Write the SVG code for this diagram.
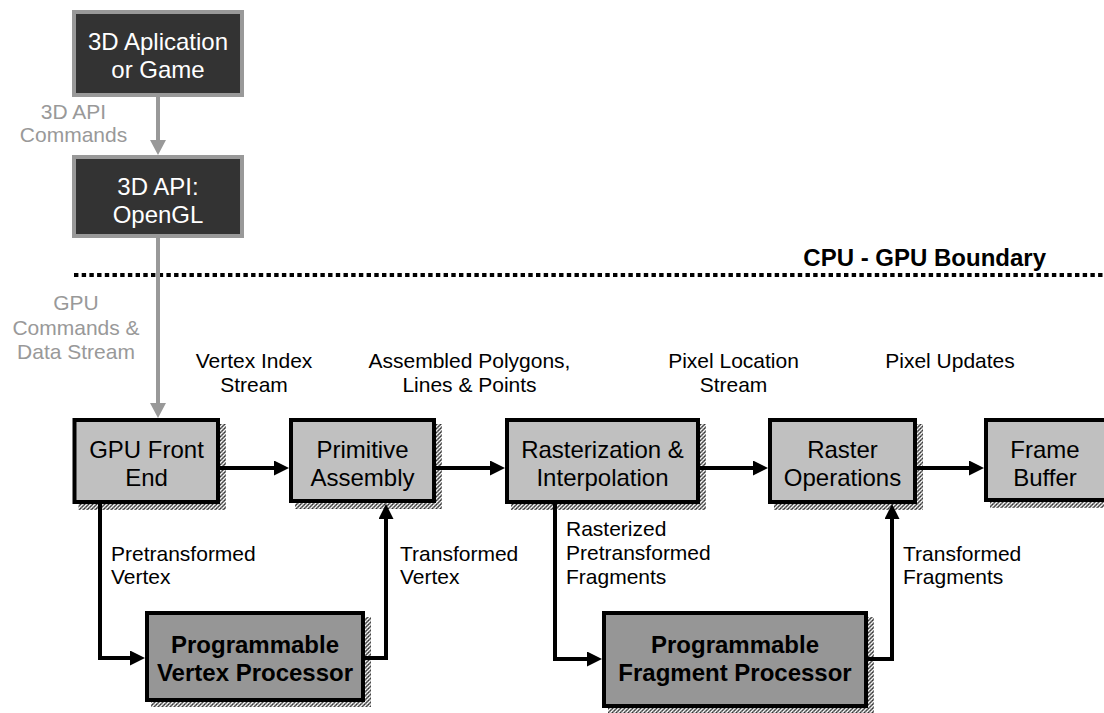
<svg xmlns="http://www.w3.org/2000/svg" width="1104" height="713" viewBox="0 0 1104 713">
<style>
.lbl{font-family:"Liberation Sans",Arial,sans-serif;font-size:21px;fill:#000}
.glbl{font-family:"Liberation Sans",Arial,sans-serif;font-size:21px;fill:#999;text-anchor:middle}
.btx{font-family:"Liberation Sans",Arial,sans-serif;font-size:24px;fill:#000;text-anchor:middle}
.wtx{font-family:"Liberation Sans",Arial,sans-serif;font-size:24px;fill:#fff;text-anchor:middle}
.bold{font-weight:bold}
.dark{fill:#333;stroke:#999;stroke-width:4}
.light{fill:#c0c0c0;stroke:#000;stroke-width:4}
.prog{fill:#969696;stroke:#000;stroke-width:4}
.shadow{fill:url(#stip)}
.conn{fill:none;stroke:#000;stroke-width:4;stroke-linejoin:miter}
.gconn{fill:none;stroke:#999;stroke-width:4}
</style>
<defs>
<pattern id="stip" width="4" height="4" patternUnits="userSpaceOnUse">
<rect width="4" height="4" fill="#9a9a9a"/>
<rect x="0" y="0" width="1" height="1" fill="#333"/>
<rect x="2" y="0" width="1" height="1" fill="#ddd"/>
<rect x="1" y="1" width="1" height="1" fill="#fff"/>
<rect x="3" y="1" width="1" height="1" fill="#555"/>
<rect x="0" y="2" width="1" height="1" fill="#eee"/>
<rect x="2" y="2" width="1" height="1" fill="#444"/>
<rect x="1" y="3" width="1" height="1" fill="#666"/>
<rect x="3" y="3" width="1" height="1" fill="#fff"/>
</pattern>
<marker id="ah" markerUnits="userSpaceOnUse" markerWidth="15" markerHeight="15" refX="10" refY="7.5" orient="auto" viewBox="0 0 15 15">
<path d="M0,0 L15,7.5 L0,15 z" fill="#000"/>
</marker>
<marker id="gah" markerUnits="userSpaceOnUse" markerWidth="15" markerHeight="16" refX="10" refY="8" orient="auto" viewBox="0 0 15 16">
<path d="M0,0 L15,8 L0,16 z" fill="#999"/>
</marker>
</defs>
<rect width="1104" height="713" fill="#fff"/>

<g id="boundary">
<line x1="74" y1="275" x2="1104" y2="275" stroke="#000" stroke-width="4" stroke-dasharray="4.4 3.3"/>
<text class="lbl bold" x="1046" y="266" text-anchor="end" style="font-size:24px">CPU - GPU Boundary</text>
</g>

<g id="app">
<rect class="dark" x="74" y="12" width="168" height="83"/>
<text class="wtx" x="158" y="50">3D Aplication</text>
<text class="wtx" x="158" y="78">or Game</text>
</g>
<g id="api">
<rect class="dark" x="74" y="157" width="168" height="79"/>
<text class="wtx" x="158" y="195">3D API:</text>
<text class="wtx" x="158" y="223">OpenGL</text>
</g>

<g id="frontend">
<rect class="shadow" x="78.5" y="424" width="147.5" height="86"/>
<rect class="light" x="74.5" y="420" width="143.5" height="82"/>
<text class="btx" x="146.5" y="458">GPU Front</text>
<text class="btx" x="146.5" y="486">End</text>
</g>
<g id="primitive">
<rect class="shadow" x="295" y="424" width="147" height="85"/>
<rect class="light" x="291" y="420" width="143" height="81"/>
<text class="btx" x="362.5" y="458">Primitive</text>
<text class="btx" x="362.5" y="486">Assembly</text>
</g>
<g id="raster">
<rect class="shadow" x="511" y="424" width="195" height="86"/>
<rect class="light" x="507" y="420" width="191" height="82"/>
<text class="btx" x="602.5" y="458">Rasterization &amp;</text>
<text class="btx" x="602.5" y="486">Interpolation</text>
</g>
<g id="rop">
<rect class="shadow" x="774" y="424" width="149" height="86"/>
<rect class="light" x="770" y="420" width="145" height="82"/>
<text class="btx" x="842.5" y="458">Raster</text>
<text class="btx" x="842.5" y="486">Operations</text>
</g>
<g id="framebuffer">
<rect class="shadow" x="990" y="424" width="126" height="84"/>
<rect class="light" x="986" y="420" width="124" height="80"/>
<text class="btx" x="1045" y="458">Frame</text>
<text class="btx" x="1045" y="486">Buffer</text>
</g>
<g id="vertexproc">
<rect class="shadow" x="151" y="617" width="220" height="90"/>
<rect class="prog" x="147" y="613" width="216" height="87"/>
<text class="btx bold" x="255" y="653">Programmable</text>
<text class="btx bold" x="255" y="681">Vertex Processor</text>
</g>
<g id="fragproc">
<rect class="shadow" x="608" y="617" width="266" height="96"/>
<rect class="prog" x="604" y="613" width="262" height="93"/>
<text class="btx bold" x="735" y="653">Programmable</text>
<text class="btx bold" x="735" y="681">Fragment Processor</text>
</g>

<g id="connectors">
<path class="gconn" d="M158,97 V150" marker-end="url(#gah)"/>
<path class="gconn" d="M158,238 V413" marker-end="url(#gah)"/>
<path class="conn" d="M220,468 H284" marker-end="url(#ah)"/>
<path class="conn" d="M436,468 H500" marker-end="url(#ah)"/>
<path class="conn" d="M700,468 H763" marker-end="url(#ah)"/>
<path class="conn" d="M917,468 H979" marker-end="url(#ah)"/>
<path class="conn" d="M100,504 V658 H140" marker-end="url(#ah)"/>
<path class="conn" d="M365,658 H386 V509" marker-end="url(#ah)"/>
<path class="conn" d="M555,504 V659 H597" marker-end="url(#ah)"/>
<path class="conn" d="M868,659 H892 V509" marker-end="url(#ah)"/>
</g>

<g id="labels">
<text class="glbl" x="73.5" y="119">3D API</text>
<text class="glbl" x="73.5" y="142">Commands</text>
<text class="glbl" x="76" y="310">GPU</text>
<text class="glbl" x="76" y="335">Commands &amp;</text>
<text class="glbl" x="76" y="359">Data Stream</text>
<text class="lbl" x="254" y="368" text-anchor="middle">Vertex Index</text>
<text class="lbl" x="254" y="392" text-anchor="middle">Stream</text>
<text class="lbl" x="469.5" y="368" text-anchor="middle">Assembled Polygons,</text>
<text class="lbl" x="469.5" y="392" text-anchor="middle">Lines &amp; Points</text>
<text class="lbl" x="733.5" y="368" text-anchor="middle">Pixel Location</text>
<text class="lbl" x="733.5" y="392" text-anchor="middle">Stream</text>
<text class="lbl" x="950" y="368" text-anchor="middle">Pixel Updates</text>
<text class="lbl" x="111" y="561">Pretransformed</text>
<text class="lbl" x="111" y="584">Vertex</text>
<text class="lbl" x="400" y="561">Transformed</text>
<text class="lbl" x="400" y="584">Vertex</text>
<text class="lbl" x="566" y="536">Rasterized</text>
<text class="lbl" x="566" y="560">Pretransformed</text>
<text class="lbl" x="566" y="584">Fragments</text>
<text class="lbl" x="903" y="561">Transformed</text>
<text class="lbl" x="903" y="584">Fragments</text>
</g>
</svg>
